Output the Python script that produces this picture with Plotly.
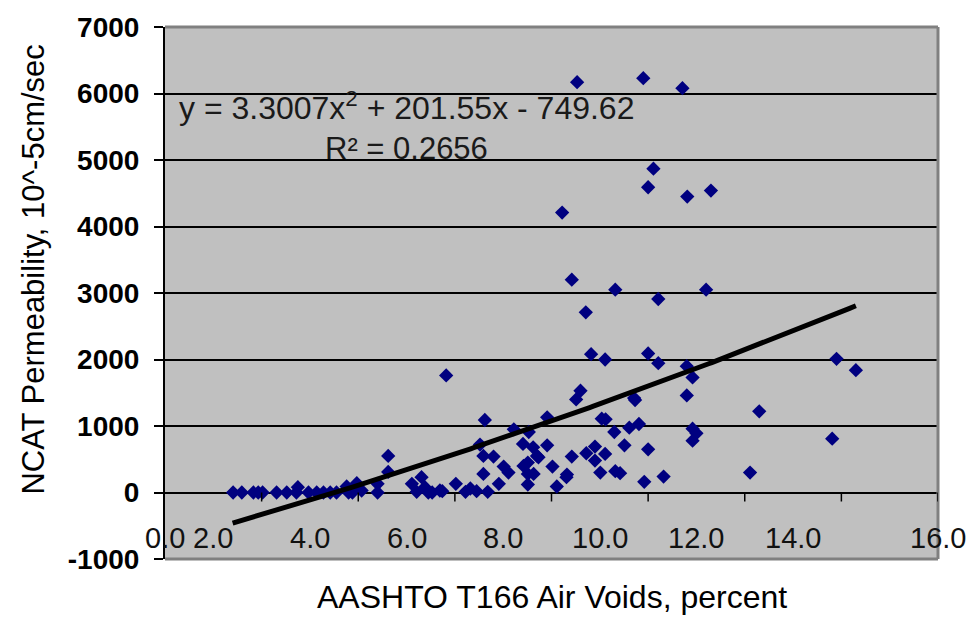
import numpy as np
import plotly.graph_objects as go

# Air voids (percent) and NCAT permeability (10^-5 cm/sec) for each core
air_voids = [
    1.41, 1.59, 1.83, 1.93, 2.02, 2.31, 2.52, 2.72, 2.75, 2.97,
    3.14, 3.28, 3.42, 3.55, 3.76, 3.80, 3.88, 3.97, 4.07, 4.40,
    4.40, 4.62, 4.62, 5.11, 5.21, 5.31, 5.38, 5.45, 5.53, 5.69,
    5.74, 5.82, 6.02, 6.22, 6.32, 6.45, 6.52, 6.59, 6.59, 6.68,
    6.62, 6.80, 6.91, 7.01, 7.11, 7.22, 7.41, 7.42, 7.51, 7.51,
    7.51, 7.53, 7.62, 7.63, 7.70, 7.73, 7.91, 7.91, 8.02, 8.11,
    8.22, 8.32, 8.31, 8.42, 8.42, 8.51, 8.53, 8.60, 8.71, 8.72,
    8.82, 8.90, 8.90, 9.01, 9.04, 9.11, 9.11, 9.12, 9.30, 9.32,
    9.32, 9.42, 9.51, 9.61, 9.71, 9.73, 9.81, 9.90, 9.92, 10.00,
    10.00, 10.00, 10.11, 10.21, 10.21, 10.32, 10.71, 10.80, 10.80, 10.81,
    10.92, 10.92, 11.00, 10.92, 11.20, 11.30, 12.11, 12.30, 13.81, 13.90,
    14.30,
]
permeability = [
    0, 0, 0, 0, 0, 0, 0, 0, 80, 0,
    0, 0, 0, 0, 90, 0, 0, 140, 30, 0,
    130, 310, 550, 130, 10, 230, 80, 0, 0, 30,
    20, 1760, 130, 10, 60, 20, 720, 550, 280, 10,
    1090, 540, 130, 390, 300, 950, 730, 400, 450, 280,
    120, 910, 680, 280, 550, 530, 1130, 710, 390, 90,
    4210, 270, 230, 540, 3200, 1400, 6170, 1530, 2710, 590,
    2080, 690, 480, 300, 1110, 580, 2000, 1100, 910, 320,
    3050, 290, 710, 975, 1420, 1390, 1030, 6230, 160, 650,
    2090, 4590, 4870, 1945, 2910, 240, 6080, 1900, 1460, 4450,
    1730, 960, 890, 780, 3050, 4540, 300, 1220, 810, 2010,
    1840,
]

# Second-order polynomial trendline and its fit statistic
trend_coef = [3.3007, 201.55, -749.62]
trend_r2 = 0.2656
trend_range = [1.4, 14.3]

x_ticks = [0, 2, 4, 6, 8, 10, 12, 14, 16]
x_tick_text = ["0.0", "2.0", "4.0", "6.0", "8.0", "10.0", "12.0", "14.0", "16.0"]
y_ticks = [-1000, 0, 1000, 2000, 3000, 4000, 5000, 6000, 7000]
y_tick_text = ["-1000", "0", "1000", "2000", "3000", "4000", "5000", "6000", "7000"]

x_title = "AASHTO T166 Air Voids, percent"
y_title = "NCAT Permeability, 10^-5cm/sec"

FONT = "Liberation Sans, Arial, sans-serif"
PLOT_BG = "#C0C0C0"
BORDER = "#808080"

fig = go.Figure()

fig.add_trace(go.Scatter(
    x=air_voids, y=permeability, mode="markers",
    marker=dict(symbol="diamond", size=11, color="#000080",
                line=dict(width=0)),
    showlegend=False, hoverinfo="x+y",
))

tx = np.linspace(trend_range[0], trend_range[1], 200)
ty = np.polyval(trend_coef, tx)
fig.add_trace(go.Scatter(
    x=tx, y=ty, mode="lines",
    line=dict(color="black", width=5),
    showlegend=False, hoverinfo="skip",
))

shapes = []
# plot-area frame (top, right, bottom)
for x0, y0, x1, y1 in [(0, 1, 1, 1), (1, 0, 1, 1), (0, 0, 1, 0)]:
    shapes.append(dict(type="line", xref="paper", yref="paper",
                       x0=x0, y0=y0, x1=x1, y1=y1,
                       line=dict(color=BORDER, width=3), layer="above"))
# tick marks on the horizontal axis crossing at zero
for v in x_ticks[1:]:
    shapes.append(dict(type="line", xref="x", yref="y",
                       ysizemode="pixel", yanchor=0,
                       x0=v, x1=v, y0=0, y1=-9,
                       line=dict(color="black", width=1.5)))

annotations = []
px_per_unit = (938 - 165) / 16.0
for v, t in zip(x_ticks, x_tick_text):
    shift = 0 if v in (x_ticks[0], x_ticks[-1]) else -px_per_unit
    annotations.append(dict(
        x=v, y=0, xref="x", yref="y", text=t, showarrow=False,
        xanchor="center", yanchor="middle", xshift=shift, yshift=-45,
        font=dict(family=FONT, size=29, color="#111111"),
    ))

eq_text = ("y = %.4fx<sup>2</sup> + %.2fx - %.2f"
           % (trend_coef[0], trend_coef[1], -trend_coef[2]))
annotations.append(dict(
    x=0.313, y=0.852, xref="paper", yref="paper", text=eq_text,
    showarrow=False, xanchor="center", yanchor="middle",
    font=dict(family=FONT, size=32, color="#1a1a1a"),
))
annotations.append(dict(
    x=0.313, y=0.772, xref="paper", yref="paper",
    text="R² = %.4f" % trend_r2,
    showarrow=False, xanchor="center", yanchor="middle",
    font=dict(family=FONT, size=31, color="#1a1a1a"),
))
annotations.append(dict(
    x=0.5, y=-0.071, xref="paper", yref="paper", text=x_title,
    showarrow=False, xanchor="center", yanchor="middle",
    font=dict(family=FONT, size=32, color="black"),
))
annotations.append(dict(
    x=-0.1695, y=0.544, xref="paper", yref="paper", text=y_title,
    showarrow=False, xanchor="center", yanchor="middle", textangle=-90,
    font=dict(family=FONT, size=31, color="black"),
))

fig.update_layout(
    width=972, height=626,
    margin=dict(l=165, r=34, t=24, b=67),
    paper_bgcolor="white", plot_bgcolor=PLOT_BG,
    shapes=shapes, annotations=annotations,
    xaxis=dict(range=[0, 16], showgrid=False, zeroline=False,
               showline=False, showticklabels=False, ticks=""),
    yaxis=dict(range=[-1000, 7000], tickvals=y_ticks, ticktext=y_tick_text,
               showgrid=True, gridcolor="black", gridwidth=2,
               zeroline=True, zerolinecolor="black", zerolinewidth=1.5,
               showline=True, linecolor="black", linewidth=2,
               ticks="outside", ticklen=9, tickwidth=2, tickcolor="black",
               ticklabelstandoff=9,
               tickfont=dict(family=FONT, size=28,
                             color="black", weight="bold")),
)

fig.write_html("out.html")
